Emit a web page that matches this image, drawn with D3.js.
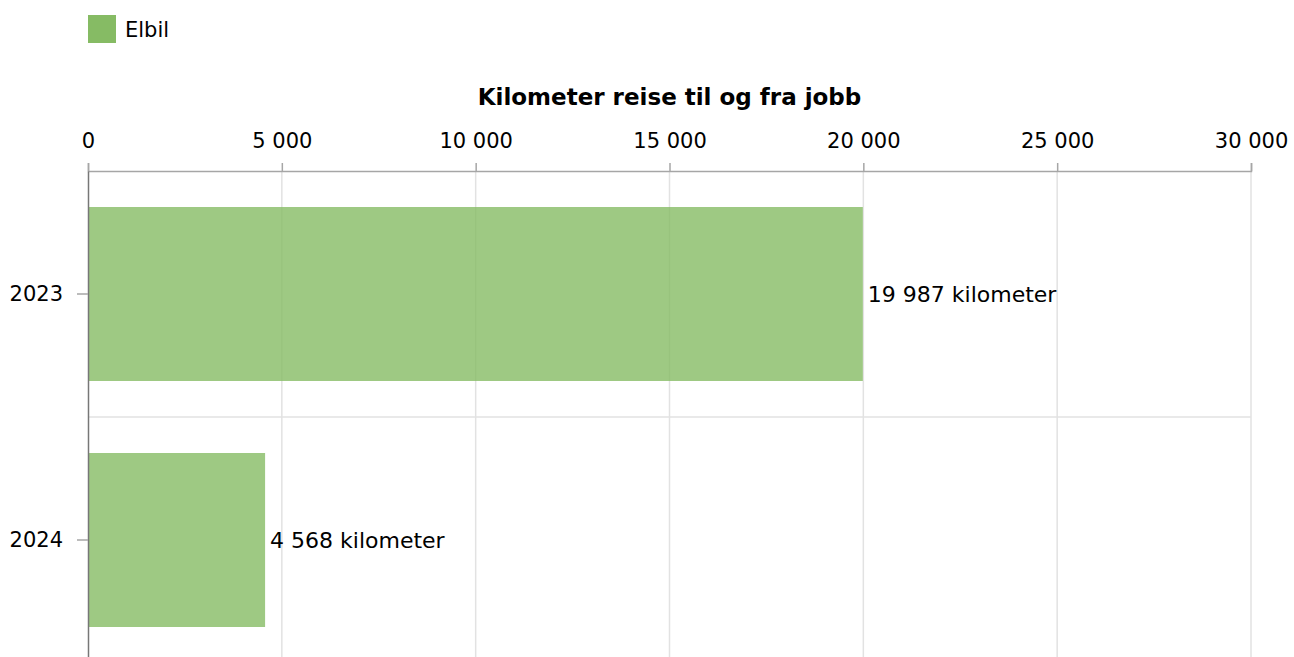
<!DOCTYPE html>
<html>
<head>
<meta charset="utf-8">
<script src="https://cdn.jsdelivr.net/npm/d3@7"></script>
<style>
  body { margin: 0; background: #fff; }
  text { font-family: Verdana, "DejaVu Sans", sans-serif; fill: #000; }
</style>
</head>
<body>
<div id="chart"></div>
<script>
// data
var years = ["2023", "2024"];
var kilometers = [19987, 4568];
var xTicks = [0, 5000, 10000, 15000, 20000, 25000, 30000];
var seriesName = "Elbil";
var axisTitle = "Kilometer reise til og fra jobb";

var width = 1294, height = 657;
var margin = {top: 171, left: 88, right: 43};
var plotW = width - margin.left - margin.right;
var bandH = 246;

var fmt = function(v) { return d3.format(",")(v).replace(/,/g, " "); };

var svg = d3.select("#chart").append("svg")
  .attr("width", width)
  .attr("height", height);

// legend
svg.append("rect")
  .attr("x", 88).attr("y", 15)
  .attr("width", 28).attr("height", 28)
  .attr("fill", "#86bb64");
svg.append("text")
  .attr("x", 125).attr("y", 30)
  .attr("dy", "0.35em")
  .style("font-size", "21px")
  .text(seriesName);

var g = svg.append("g")
  .attr("transform", "translate(" + margin.left + "," + margin.top + ")");

var x = d3.scaleLinear().domain([0, 30000]).range([0, plotW]);
var y = d3.scaleBand().domain(years).range([0, bandH * years.length]);

// vertical grid
g.selectAll(".vgrid")
  .data(xTicks.slice(1))
  .enter().append("line")
  .attr("x1", function(d) { return x(d); })
  .attr("x2", function(d) { return x(d); })
  .attr("y1", 0).attr("y2", bandH * years.length)
  .attr("stroke", "#e2e2e2").attr("stroke-width", 1.5);

// horizontal separators between categories
g.selectAll(".hgrid")
  .data(years.slice(1))
  .enter().append("line")
  .attr("x1", 0).attr("x2", plotW)
  .attr("y1", function(d) { return y(d); })
  .attr("y2", function(d) { return y(d); })
  .attr("stroke", "#e2e2e2").attr("stroke-width", 1.5);

// bars
var pad = 36;
g.selectAll(".bar")
  .data(years)
  .enter().append("rect")
  .attr("x", x(0))
  .attr("y", function(d) { return y(d) + pad; })
  .attr("width", function(d, i) { return x(kilometers[i]) - x(0); })
  .attr("height", y.bandwidth() - 2 * pad)
  .attr("fill", "#86bb64")
  .attr("fill-opacity", 0.8);

// value labels
g.selectAll(".lbl")
  .data(years)
  .enter().append("text")
  .attr("x", function(d, i) { return x(kilometers[i]) + 5; })
  .attr("y", function(d) { return y(d) + y.bandwidth() / 2; })
  .attr("dy", "0.35em")
  .style("font-size", "22px")
  .text(function(d, i) { return fmt(kilometers[i]) + " kilometer"; });

// top axis
var xAxis = g.append("g")
  .call(d3.axisTop(x).tickValues(xTicks).tickFormat(fmt).tickSize(8).tickPadding(15));
xAxis.select(".domain").attr("stroke", "#a6a6a6").attr("stroke-width", 1.5);
xAxis.selectAll(".tick line").attr("stroke", "#a6a6a6").attr("stroke-width", 1.5);
xAxis.selectAll(".tick text")
  .style("font-family", "Verdana, 'DejaVu Sans', sans-serif")
  .style("font-size", "21px")
  .attr("fill", "#000");

// left axis
var yAxis = g.append("g")
  .call(d3.axisLeft(y).tickSize(11).tickPadding(14).tickSizeOuter(0));
yAxis.select(".domain").attr("stroke", "#777").attr("stroke-width", 1.5);
yAxis.selectAll(".tick line").attr("stroke", "#a6a6a6").attr("stroke-width", 1.5);
yAxis.selectAll(".tick text")
  .style("font-family", "Verdana, 'DejaVu Sans', sans-serif")
  .style("font-size", "21px")
  .attr("fill", "#000");

// axis title
svg.append("text")
  .attr("x", margin.left + plotW / 2)
  .attr("y", 97)
  .attr("dy", "0.35em")
  .attr("text-anchor", "middle")
  .style("font-size", "23px")
  .style("font-weight", "bold")
  .text(axisTitle);
</script>
</body>
</html>
